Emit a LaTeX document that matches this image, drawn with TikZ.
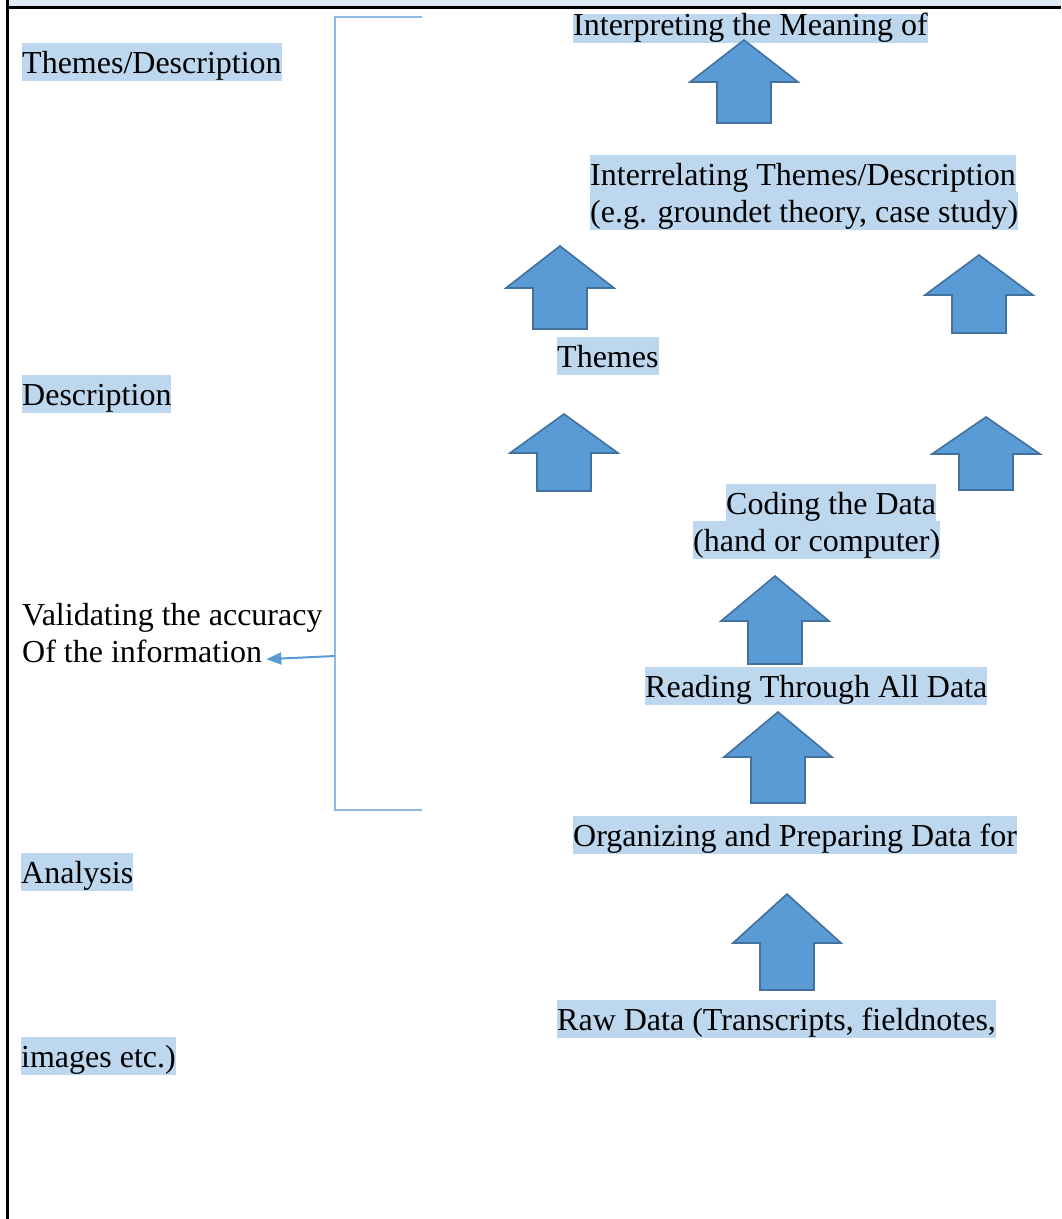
\documentclass[tikz,border=0pt]{standalone}
\usepackage{fontspec}
\setmainfont{Liberation Serif}
\usetikzlibrary{arrows.meta}
\definecolor{hl}{HTML}{BDD7EE}
\definecolor{arrowfill}{HTML}{5B9BD5}
\definecolor{arrowdraw}{HTML}{41719C}
\definecolor{brk}{HTML}{8FB8E2}
\definecolor{band}{HTML}{DEEAF6}
\newcommand\UpArrow[4]{%
  \path[uparrow] (#1,#2) -- (#1+54,#3) -- (#1+27,#3) -- (#1+27,#4) -- (#1-27,#4) -- (#1-27,#3) -- (#1-54,#3) -- cycle;}
\begin{document}
\begin{tikzpicture}[x=1pt,y=-1pt,
  lbl/.style={anchor=north west, inner sep=0pt, fill=hl, text height=30pt, text depth=8pt, font=\fontsize{32}{36}\selectfont},
  plain/.style={lbl, fill=none},
  uparrow/.style={fill=arrowfill, draw=arrowdraw, line width=1.6pt, line join=miter},
  bracket/.style={draw=brk, line width=2pt},
  pointer/.style={draw=arrowfill, line width=2pt, -{Triangle[length=15pt,width=12pt]}}]
\useasboundingbox (0,0) rectangle (1061,1219);
\fill[white] (0,0) rectangle (1061,1219);
% table frame
\fill[band] (8,0) rectangle (1061,6);
\draw[line width=3pt] (6,7) -- (1061,7);
\draw[line width=3pt] (7,0) -- (7,1219);
% labels
\node[lbl, text height=21pt] (interp) at (573,14) {Interpreting the Meaning of};
\node[lbl] (themesdesc) at (22,43) {Themes/Description};
\node[lbl] (interrel1) at (590,155) {Interrelating Themes/Description};
\node[lbl] (interrel2) at (590,192) {(e.g. groundet theory, case study)};
\node[lbl] (themes) at (557,337) {Themes};
\node[lbl] (descr) at (22,375) {Description};
\node[lbl] (coding1) at (726,484) {Coding the Data};
\node[lbl] (coding2) at (693,521) {(hand or computer)};
\node[plain] (valid1) at (22,595) {Validating the accuracy};
\node[plain] (valid2) at (22,632) {Of the information};
\node[lbl] (reading) at (645,667) {Reading Through All Data};
\node[lbl] (organizing) at (573,816) {Organizing and Preparing Data for};
\node[lbl] (analysis) at (21,853) {Analysis};
\node[lbl] (raw) at (557,1000) {Raw Data (Transcripts, fieldnotes,};
\node[lbl] (images) at (21,1037) {images etc.)};
% block arrows
\UpArrow{744}{40}{82}{123}
\UpArrow{560}{246}{288}{329}
\UpArrow{979}{255}{295}{333}
\UpArrow{564}{414}{453}{491}
\UpArrow{986}{417}{454}{490}
\UpArrow{775}{576}{621}{664}
\UpArrow{778}{712}{757}{803}
\UpArrow{787}{894}{943}{990}
% bracket
\draw[bracket] (422,17) -- (335,17) -- (335,810) -- (422,810);
\coordinate (brkmid) at (335,656);
\draw[pointer] (brkmid) -- ([xshift=4pt,yshift=3pt]valid2.base east);
\end{tikzpicture}
\end{document}
